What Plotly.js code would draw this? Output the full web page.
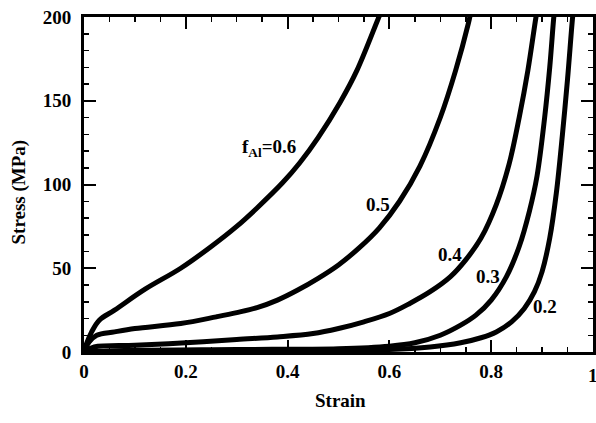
<!DOCTYPE html>
<html>
<head>
<meta charset="utf-8">
<script src="https://cdn.plot.ly/plotly-3.0.1.min.js"></script>
<style>html,body{margin:0;padding:0;background:#fff;}#chart{width:596px;height:423px;}</style>
</head>
<body>
<div id="chart"></div>
<script>
// Stress–strain curves for different Al volume fractions
const x06 = [0, 0.005, 0.015, 0.03, 0.06, 0.12, 0.19, 0.25, 0.30, 0.34, 0.39, 0.424, 0.46, 0.503, 0.536, 0.578, 0.585];
const y06 = [0, 5, 12, 19, 25, 37.5, 50, 63, 75, 86, 101, 113, 128, 149, 168, 199, 204];

const x05 = [0, 0.01, 0.025, 0.06, 0.1, 0.19, 0.26, 0.30, 0.34, 0.38, 0.42, 0.46, 0.50, 0.54, 0.58, 0.62, 0.66, 0.70, 0.73, 0.755, 0.76];
const y05 = [0, 6, 10, 12, 14, 17, 21, 23.5, 26.5, 31, 37, 44, 52, 62, 74, 90, 111, 140, 168, 196, 203];

const x04 = [0, 0.02, 0.1, 0.2, 0.3, 0.38, 0.45, 0.5, 0.55, 0.6, 0.64, 0.68, 0.72, 0.75, 0.78, 0.81, 0.835, 0.855, 0.872, 0.888, 0.891];
const y04 = [0, 3, 4, 5.5, 7.5, 9, 11, 14, 18, 23, 29, 36, 45, 55, 68, 88, 112, 140, 168, 200, 205];

const x03 = [0, 0.1, 0.3, 0.5, 0.6, 0.65, 0.7, 0.74, 0.77, 0.8, 0.83, 0.855, 0.875, 0.89, 0.905, 0.915, 0.923, 0.925];
const y03 = [0, 1, 1.5, 2, 3.5, 5.5, 10, 16, 22, 31, 45, 63, 84, 105, 140, 170, 200, 205];

const x02 = [0, 0.2, 0.4, 0.6, 0.68, 0.74, 0.78, 0.81, 0.84, 0.865, 0.885, 0.9, 0.915, 0.928, 0.94, 0.95, 0.96, 0.962];
const y02 = [0, 0.3, 0.8, 1.5, 3, 5.5, 8.5, 12, 18, 26, 36, 48, 68, 95, 130, 163, 200, 205];

const curveLabels = ["f<sub>Al</sub>=0.6", "0.5", "0.4", "0.3", "0.2"];
const labelX = [0.363, 0.577, 0.719, 0.794, 0.906];
const labelY = [122, 88, 58.5, 45, 27];

const FONT = "Liberation Serif, Times New Roman, serif";
const line = {color: "#000", width: 5, shape: "spline", smoothing: 1};
const series = [[x06, y06], [x05, y05], [x04, y04], [x03, y03], [x02, y02]];
const traces = series.map(s => ({x: s[0], y: s[1], mode: "lines", line: line, hoverinfo: "skip"}));

const annotations = curveLabels.map((t, i) => ({
  x: labelX[i], y: labelY[i], xref: "x", yref: "y", text: "<b>" + t + "</b>",
  showarrow: false, font: {family: FONT, size: 19, color: "#000"}
}));
annotations.push({x: 1, y: 0, xref: "x", yref: "paper", yanchor: "middle", yshift: -23,
  text: "<b>1</b>", showarrow: false, font: {family: FONT, size: 19, color: "#000"}});
annotations.push({x: 0.5, y: 0, xref: "paper", yref: "paper", yanchor: "middle", xshift: 2, yshift: -48,
  text: "<b>Strain</b>", showarrow: false, font: {family: FONT, size: 19, color: "#000"}});
annotations.push({x: 0, y: 0.5, xref: "paper", yref: "paper", xanchor: "center", yanchor: "middle",
  xshift: -66, yshift: -8, textangle: -90,
  text: "<b>Stress (MPa)</b>", showarrow: false, font: {family: FONT, size: 19, color: "#000"}});

const layout = {
  width: 596, height: 423,
  margin: {l: 84, r: 3, t: 17, b: 71},
  paper_bgcolor: "#fff", plot_bgcolor: "#fff",
  showlegend: false,
  font: {family: FONT, color: "#000"},
  xaxis: {
    range: [0, 1], tickmode: "linear", tick0: 0, dtick: 0.2,
    showline: true, linecolor: "#000", linewidth: 3, mirror: "allticks",
    ticks: "inside", ticklen: 12, tickwidth: 2, tickcolor: "#000",
    showgrid: false, zeroline: false, layer: "above traces",
    tickfont: {family: FONT, size: 19, color: "#000", weight: "bold"},
    minor: {dtick: 0.05, ticklen: 5, tickwidth: 1.5, tickcolor: "#000", ticks: "inside"}
  },
  yaxis: {
    range: [0, 200], tickmode: "linear", tick0: 0, dtick: 50,
    showline: true, linecolor: "#000", linewidth: 3, mirror: "allticks",
    ticks: "inside", ticklen: 12, tickwidth: 2, tickcolor: "#000",
    showgrid: false, zeroline: false, layer: "above traces",
    tickfont: {family: FONT, size: 19, color: "#000", weight: "bold"},
    minor: {dtick: 10, ticklen: 5, tickwidth: 1.5, tickcolor: "#000", ticks: "inside"},
    ticklabelstandoff: 6
  },
  annotations: annotations
};

Plotly.newPlot("chart", traces, layout, {displayModeBar: false, staticPlot: true});
</script>
</body>
</html>
